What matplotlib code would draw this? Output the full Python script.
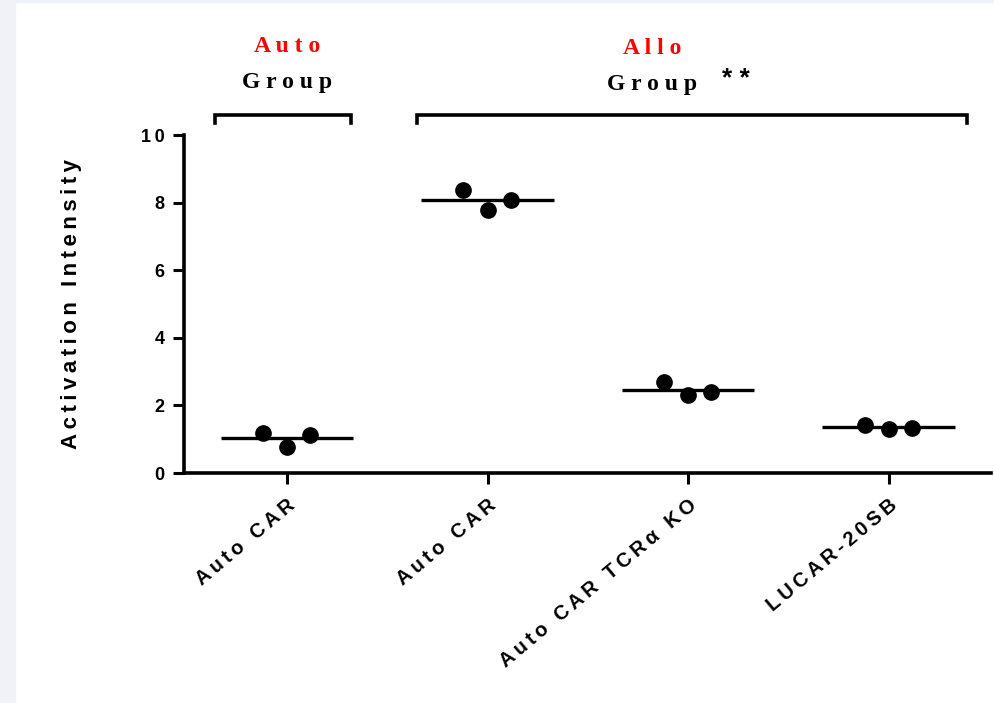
import matplotlib.pyplot as plt
from matplotlib.patches import Rectangle
import numpy as np

# data
categories = ['Auto CAR', 'Auto CAR', 'Auto CAR TCRα KO', 'LUCAR-20SB']
replicates = [
    [1.18, 0.77, 1.12],
    [8.37, 7.78, 8.08],
    [2.69, 2.31, 2.40],
    [1.42, 1.30, 1.33],
]
y_ticks = [0, 2, 4, 6, 8, 10]
y_label = 'Activation Intensity'

SANS = ['Liberation Sans', 'DejaVu Sans']


def spaced(s: str, gap: str = ' ') -> str:
    # the original uses wide letter spacing everywhere
    return gap.join(s)


W, H = 994, 703
fig = plt.figure(figsize=(W / 100, H / 100), dpi=100)
fig.patches.append(Rectangle((0, 0), 15 / W, 1, transform=fig.transFigure,
                             color='#f1f2f7', zorder=0))
fig.patches.append(Rectangle((0, 1 - 2 / H), 1, 2 / H, transform=fig.transFigure,
                             color='#f1f2f7', zorder=0))

ax = fig.add_axes([184 / W, (H - 473) / H, (991 - 184) / W, (473 - 135) / H])

jitter = [-0.12, 0.0, 0.115]
for i, vals in enumerate(replicates):
    xs = [i + j for j in jitter]
    ax.plot(xs, vals, 'o', color='black', ms=11, zorder=3)
    m = np.mean(vals)
    ax.plot([i - 0.33, i + 0.33], [m, m], color='black', lw=2.4, solid_capstyle='butt', zorder=2)

ax.set_xlim(-0.513, 3.51)
ax.set_ylim(0, 10)
ax.set_yticks(y_ticks)
ax.set_yticklabels([spaced(str(t), '\u2009') for t in y_ticks], fontsize=13, fontweight='bold',
                   family=SANS)
ax.set_xticks(range(len(categories)))
ax.set_xticklabels([spaced(c, '\u2009') for c in categories], rotation=40, ha='right',
                   rotation_mode='anchor', fontsize=14.5, fontweight='bold', family=SANS)
ax.tick_params(axis='both', direction='out', length=8, width=2.2, pad=6)
ax.tick_params(axis='x', pad=8)
for side in ['top', 'right']:
    ax.spines[side].set_visible(False)
for side in ['left', 'bottom']:
    ax.spines[side].set_linewidth(2.6)
ax.set_ylabel(spaced(y_label, '\u2009'), fontsize=16, fontweight='bold',
              family=SANS, labelpad=42)

# group brackets above the plot
def bracket(x0, x1, y_top, y_bot):
    ax.plot([x0, x0, x1, x1], [y_bot, y_top, y_top, y_bot], color='black', lw=2.6,
            clip_on=False, solid_joinstyle='miter')

bracket(-0.36, 0.32, 10.59, 10.35)
bracket(0.65, 3.39, 10.59, 10.35)

serif = dict(family='Liberation Serif', fontweight='bold', fontsize=17, ha='center',
             va='center', clip_on=False)
ax.text(0.0, 12.63, 'A u t o', color='red', **serif)
ax.text(0.0, 11.54, 'G r o u p', color='black', **serif)
ax.text(1.82, 12.57, 'A l l o', color='red', **serif)
ax.text(1.82, 11.48, 'G r o u p', color='black', **serif)
ax.text(2.24, 11.66, '* *', color='black', fontsize=19, fontweight='bold',
        ha='center', va='center', family=SANS)

fig.savefig('out.png', dpi=100)
